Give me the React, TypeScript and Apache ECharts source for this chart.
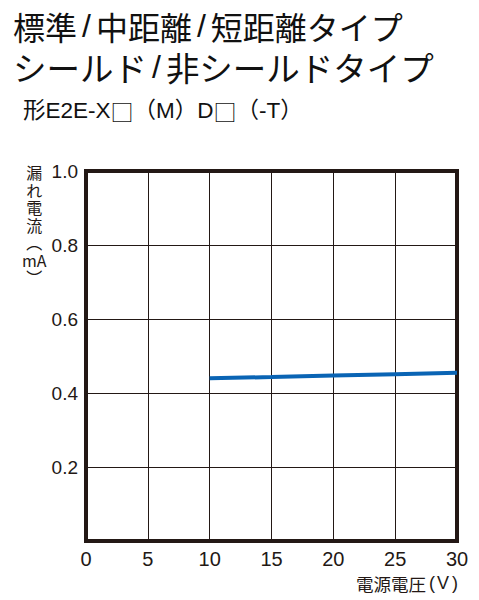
import * as echarts from 'echarts';
import React, { useEffect, useRef } from 'react';

const titleLine1 = ['標準', '中距離', '短距離タイプ'];
const titleLine2 = ['シールド', '非シールドタイプ'];
const modelParts = ['形E2E-X', '□', '（M）D', '□', '（-T）'];
const yAxisName = ['漏', 'れ', '電', '流', '︵', 'mA', '︶'];
const xAxisName = '電源電圧';
const xAxisUnit = 'V';

// supply voltage (V) vs leakage current (mA)
const voltage = [10, 15, 20, 25, 30];
const leakage = [0.44, 0.443, 0.447, 0.451, 0.455];

const FONT = '"Liberation Sans", "Noto Sans CJK JP", sans-serif';
const CJK = '"Noto Sans CJK JP", sans-serif';
const INK = '#231815';

// join title pieces with a slash that has room on both sides
const slashJoin = (parts: string[], style: string) =>
  parts.map((p) => `{${style}|${p}}`).join('{s|/}');

const App: React.FC = () => {
  const ref = useRef<HTMLDivElement>(null);

  useEffect(() => {
    document.body.style.margin = '0';
    const chart = echarts.init(ref.current, undefined, { renderer: 'svg' });
    chart.setOption({
      animation: false,
      textStyle: { fontFamily: FONT },
      grid: {
        left: 86,
        right: 22,
        top: 171,
        bottom: 59,
        show: true,
        borderColor: INK,
        borderWidth: 4,
      },
      xAxis: {
        type: 'value',
        min: 0,
        max: 30,
        interval: 5,
        axisLine: { show: false },
        axisTick: { show: false },
        splitLine: { lineStyle: { color: INK, width: 1 } },
        axisLabel: { color: INK, fontSize: 20, margin: 8, fontFamily: FONT },
      },
      yAxis: {
        type: 'value',
        min: 0,
        max: 1.0,
        interval: 0.2,
        axisLine: { show: false },
        axisTick: { show: false },
        splitLine: { lineStyle: { color: INK, width: 1 } },
        axisLabel: {
          color: INK,
          fontSize: 19,
          margin: 8,
          fontFamily: FONT,
          formatter: (v: number) => (v === 0 ? '' : v.toFixed(1)),
        },
      },
      series: [
        {
          type: 'line',
          data: voltage.map((v, i) => [v, leakage[i]]),
          symbol: 'none',
          lineStyle: { color: '#0a64b4', width: 4 },
        },
      ],
      graphic: [
        {
          type: 'text',
          left: 13,
          top: 10,
          style: {
            text: slashJoin(titleLine1, 'a'),
            rich: {
              a: { fontSize: 32, fontFamily: CJK, fill: '#111' },
              s: { fontSize: 32, fontFamily: FONT, fill: '#111', padding: [0, 5] },
            },
          },
        },
        {
          type: 'text',
          left: 13,
          top: 50,
          style: {
            text: slashJoin(titleLine2, 'b'),
            rich: {
              b: { fontSize: 33.5, fontFamily: CJK, fill: '#111' },
              s: { fontSize: 32, fontFamily: FONT, fill: '#111', padding: [0, 5] },
            },
          },
        },
        {
          type: 'text',
          left: 23,
          top: 99,
          style: {
            text: modelParts
              .map((p) => (p === '□' ? `{box|${p}}` : `{t|${p}}`))
              .join(''),
            rich: {
              t: { fontSize: 22.5, fontFamily: FONT, fill: '#111' },
              box: { fontSize: 23, fontFamily: CJK, fill: '#111' },
            },
          },
        },
        {
          type: 'text',
          left: 22,
          top: 164,
          style: {
            text: yAxisName.map((c) => `{y|${c}}`).join('\n'),
            rich: {
              y: {
                fontSize: 16,
                lineHeight: 17.5,
                fontFamily: CJK,
                fill: INK,
                width: 18,
                align: 'center',
              },
            },
          },
        },
        {
          type: 'text',
          right: 21,
          top: 574,
          style: {
            text: `{c|${xAxisName}}{p|(}{v|${xAxisUnit}}{p|)}`,
            rich: {
              c: { fontSize: 17.5, fontFamily: CJK, fill: INK },
              p: { fontSize: 18, fontFamily: FONT, fill: INK, padding: [0, 2, 0, 3] },
              v: { fontSize: 18, fontFamily: FONT, fill: INK },
            },
          },
        },
      ],
    });
    return () => {
      chart.dispose();
    };
  }, []);

  return <div ref={ref} style={{ width: 479, height: 600 }}></div>;
};

export default App;
